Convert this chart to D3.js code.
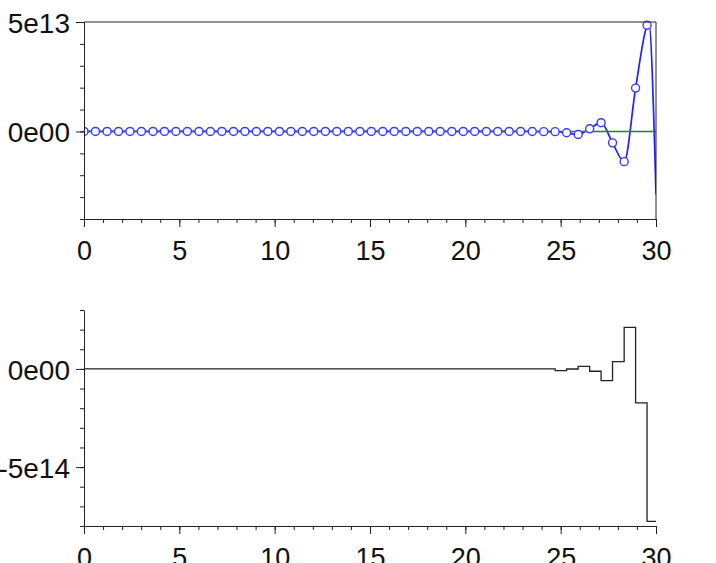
<!DOCTYPE html>
<html><head><meta charset="utf-8">
<script src="https://cdn.jsdelivr.net/npm/d3@7"></script>
<style>
body{margin:0;background:#fff;overflow:hidden}
text{font-family:"Liberation Sans",Arial,Helvetica,sans-serif}
</style>
</head><body><svg id="c" width="716" height="563"></svg>
<script>
// ---- data ----
const sampleTimes = [0.00,0.60,1.21,1.81,2.41,3.01,3.62,4.22,4.82,5.42,
  6.03,6.63,7.23,7.84,8.44,9.04,9.64,10.25,10.85,11.45,
  12.05,12.66,13.26,13.86,14.47,15.07,15.67,16.27,16.88,17.48,
  18.08,18.68,19.29,19.89,20.49,21.10,21.70,22.30,22.90,23.51,
  24.11,24.71,25.31,25.92,26.52,27.12,27.72,28.33,28.93,29.53];
const tEnd = 30;
// top panel: sampled signal (circles)
const signalValues = [0,0,0,0,0,0,0,0,0,0,
  0,0,0,0,0,0,0,0,0,0,
  0,0,0,0,0,0,0,0,0,0,
  0,0,0,0,0,0,0,0,0,-0.0005e13,
  -0.01e13,-0.01e13,-0.06e13,-0.14e13,0.12e13,0.40e13,-0.52e13,-1.38e13,1.98e13,4.85e13];
// extra points of the continuous curve past the last sample
const curveTailTimes = [29.62, 29.93, 30.0];
const curveTailValues = [5.0e13, -0.7e13, -2.88e13];
// bottom panel: staircase values, held from each sample time to the next
const stepValues = [0,0,0,0,0,0,0,0,0,0,
  0,0,0,0,0,0,0,0,0,0,
  0,0,0,0,0,0,0,0,0,0,
  0,0,0,0,0,0,0,0,0,0,
  0,-0.09e14,-0.005e14,0.13e14,-0.12e14,-0.60e14,0.37e14,2.12e14,-1.73e14,-7.76e14];

const xDomain = [0, 30];
const xMajorTicks = [0,5,10,15,20,25,30];
const xTickLabels = ["0","5","10","15","20","25","30"];
const topDomain = [-4e13, 5e13];
const topMajorTicks = [0, 5e13];
const topTickLabels = ["0e00","5e13"];
const topMinorStep = 1e13;
const botDomain = [-8e14, 3e14];
const botMajorTicks = [0, -5e14];
const botTickLabels = ["0e00","-5e14"];
const botMinorStep = 1e14;

// ---- drawing ----
const svg = d3.select("#c");
const L = 84, R = 656;
const x = d3.scaleLinear().domain(xDomain).range([L, R]);
const yTop = d3.scaleLinear().domain(topDomain).range([219, 22]);
const yBot = d3.scaleLinear().domain(botDomain).range([526, 310]);
const axisColor = "#222";
const fsX = 27, fsY = 28;

function minorTicks(dom, step){
  const out=[]; const n0=Math.ceil(dom[0]/step-1e-9), n1=Math.floor(dom[1]/step+1e-9);
  for(let i=n0;i<=n1;i++) out.push(i*step); return out;
}
function styleAxis(g, fs){
  g.select(".domain").attr("stroke", axisColor);
  g.selectAll(".tick line").attr("stroke", axisColor);
  g.selectAll(".tick text").attr("fill","#111").style("font-size", fs+"px")
   .style("font-family",'"Liberation Sans",Arial,sans-serif');
}
function drawXAxis(y0){
  const g1 = svg.append("g").attr("transform",`translate(0,${y0})`)
    .call(d3.axisBottom(x).tickValues(d3.range(0,31,1)).tickSize(4).tickSizeOuter(0).tickFormat(""));
  styleAxis(g1, fsX);
  const g2 = svg.append("g").attr("transform",`translate(0,${y0})`)
    .call(d3.axisBottom(x).tickValues(xMajorTicks).tickSize(8).tickSizeOuter(0).tickPadding(14)
      .tickFormat((d,i)=>xTickLabels[i]));
  styleAxis(g2, fsX);
  g2.select(".domain").remove();
}
function drawYAxis(y, dom, step, majors, labels){
  const g1 = svg.append("g").attr("transform",`translate(${L},0)`)
    .call(d3.axisLeft(y).tickValues(minorTicks(dom,step)).tickSize(4).tickSizeOuter(0).tickFormat(""));
  styleAxis(g1, fsY);
  const g2 = svg.append("g").attr("transform",`translate(${L},0)`)
    .call(d3.axisLeft(y).tickValues(majors).tickSize(8).tickSizeOuter(0).tickPadding(6)
      .tickFormat((d,i)=>labels[i]));
  styleAxis(g2, fsY);
  g2.selectAll(".tick text").attr("dy","0.36em");
  g2.select(".domain").remove();
}

// clip paths
const defs = svg.append("defs");
defs.append("clipPath").attr("id","clipTop").append("rect")
  .attr("x",L).attr("y",yTop.range()[1]-6).attr("width",R-L).attr("height",yTop.range()[0]-yTop.range()[1]+6);
defs.append("clipPath").attr("id","clipBot").append("rect")
  .attr("x",L).attr("y",yBot.range()[1]).attr("width",R-L).attr("height",yBot.range()[0]-yBot.range()[1]);

// ----- top panel -----
const topPts = sampleTimes.map((t,i)=>[t, signalValues[i]])
  .concat(curveTailTimes.map((t,i)=>[t, curveTailValues[i]]));
const gTop = svg.append("g").attr("clip-path","url(#clipTop)");
gTop.append("path").datum(topPts)
  .attr("d", d3.line().x(d=>x(d[0])).y(d=>yTop(d[1])).curve(d3.curveMonotoneX))
  .attr("fill","none").attr("stroke","#1f1fff").attr("stroke-width",1.7);
gTop.append("line").attr("x1",x(xDomain[0])).attr("x2",x(xDomain[1]))
  .attr("y1",yTop(0)).attr("y2",yTop(0)).attr("stroke","#109010").attr("stroke-width",1.4);
gTop.selectAll("circle").data(sampleTimes.map((t,i)=>[t,signalValues[i]])).join("circle")
  .attr("cx",d=>x(d[0])).attr("cy",d=>yTop(d[1])).attr("r",4)
  .attr("fill","#fff").attr("stroke","#3a3aff").attr("stroke-width",1.4);

// box borders
svg.append("line").attr("x1",L).attr("x2",R).attr("y1",yTop.range()[1]).attr("y2",yTop.range()[1]).attr("stroke",axisColor);
svg.append("line").attr("x1",R).attr("x2",R).attr("y1",yTop.range()[1]).attr("y2",yTop.range()[0]).attr("stroke",axisColor);
drawXAxis(yTop.range()[0]);
drawYAxis(yTop, topDomain, topMinorStep, topMajorTicks, topTickLabels);

// ----- bottom panel -----
const stepPts = sampleTimes.map((t,i)=>[t, stepValues[i]]).concat([[tEnd, stepValues[stepValues.length-1]]]);
svg.append("g").attr("clip-path","url(#clipBot)").append("path").datum(stepPts)
  .attr("d", d3.line().x(d=>x(d[0])).y(d=>yBot(d[1])).curve(d3.curveStepAfter))
  .attr("fill","none").attr("stroke","#222").attr("stroke-width",1.3);
drawXAxis(yBot.range()[0]);
drawYAxis(yBot, botDomain, botMinorStep, botMajorTicks, botTickLabels);
</script>
</body></html>
